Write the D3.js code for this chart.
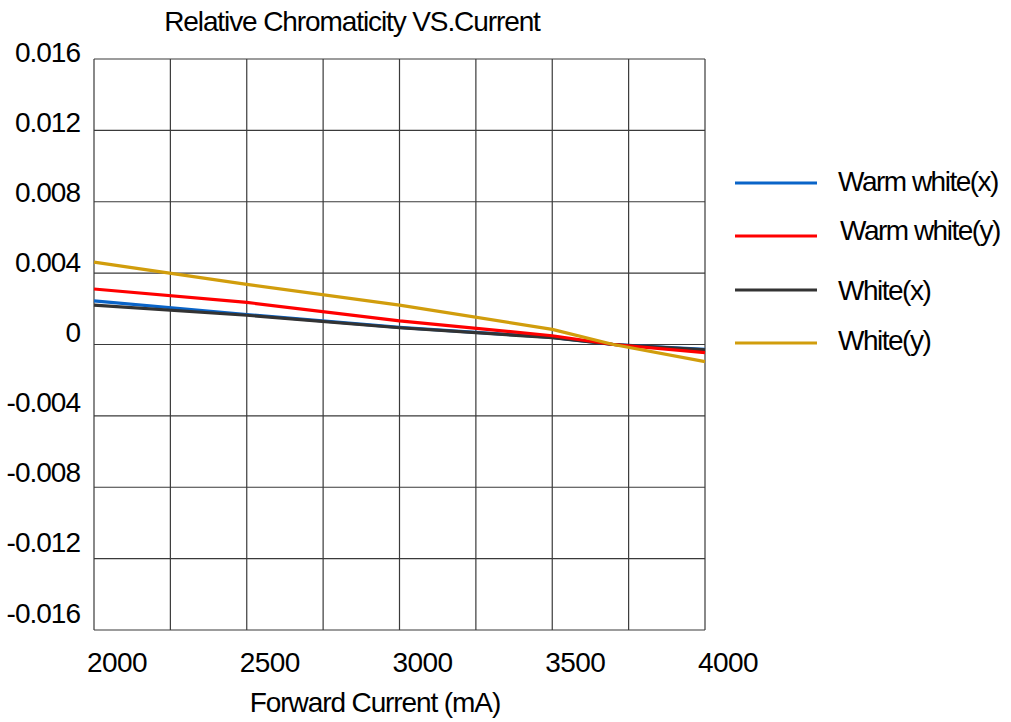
<!DOCTYPE html>
<html>
<head>
<meta charset="utf-8">
<script src="https://cdn.jsdelivr.net/npm/d3@7/dist/d3.min.js"></script>
<style>
  html, body { margin: 0; padding: 0; background: #fff; }
  svg { display: block; }
  text { font-family: "Liberation Sans", Arial, sans-serif; fill: #000; }
</style>
</head>
<body>
<svg id="chart" width="1011" height="722"></svg>
<script>
// ---- data ----
const title = "Relative Chromaticity VS.Current";
const xTitle = "Forward Current (mA)";
const currents = [2000, 2500, 3000, 3500, 3700, 4000];
const warmWhiteX = [0.00244, 0.00168, 0.00096, 0.00040, 0, -0.00027];
const warmWhiteY = [0.00311, 0.00236, 0.00132, 0.00049, 0, -0.00046];
const whiteX     = [0.00221, 0.00164, 0.00094, 0.00038, 0, -0.00030];
const whiteY     = [0.00462, 0.00337, 0.00221, 0.00085, 0, -0.00096];
const seriesNames = ["Warm white(x)", "Warm white(y)", "White(x)", "White(y)"];
const seriesColors = ["#0a64c8", "#ff0000", "#333333", "#d19d0c"];
const xTickLabels = [2000, 2500, 3000, 3500, 4000];
const xGrid = [2000, 2250, 2500, 2750, 3000, 3250, 3500, 3750, 4000];
const yTicks = [0.016, 0.012, 0.008, 0.004, 0, -0.004, -0.008, -0.012, -0.016];
const yTickLabels = ["0.016", "0.012", "0.008", "0.004", "0", "-0.004", "-0.008", "-0.012", "-0.016"];

const seriesValues = [warmWhiteX, warmWhiteY, whiteX, whiteY];

// ---- layout ----
const svg = d3.select("#chart");
const L = 94, R = 705, T = 59, B = 630;
const x = d3.scaleLinear().domain([2000, 4000]).range([L, R]);
const y = d3.scaleLinear().domain([-0.016, 0.016]).range([B, T]);
const yLab = d3.scaleLinear().domain([-0.016, 0.016]).range([613, 52]);

// grid
const g = svg.append("g");
g.selectAll("line.v").data(xGrid).join("line")
  .attr("x1", d => x(d)).attr("x2", d => x(d))
  .attr("y1", T).attr("y2", B)
  .attr("stroke", "#3a3a3a").attr("stroke-width", 1.2);
g.selectAll("line.h").data(yTicks).join("line")
  .attr("x1", L).attr("x2", R)
  .attr("y1", d => y(d)).attr("y2", d => y(d))
  .attr("stroke", "#3a3a3a").attr("stroke-width", 1.2);

// series lines
const line = d3.line().x((d, i) => x(currents[i])).y(d => y(d));
const order = [0, 2, 1, 3];
order.forEach(k => {
  svg.append("path").datum(seriesValues[k])
    .attr("d", line)
    .attr("fill", "none")
    .attr("stroke", seriesColors[k])
    .attr("stroke-width", 3.2)
    .attr("stroke-linejoin", "round");
});

// y labels
svg.selectAll("text.yl").data(yTicks).join("text")
  .attr("x", 80).attr("y", d => yLab(d))
  .attr("text-anchor", "end").attr("dominant-baseline", "central")
  .attr("font-size", 28).attr("letter-spacing", -1)
  .text((d, i) => yTickLabels[i]);

// x labels
svg.selectAll("text.xl").data(xTickLabels).join("text")
  .attr("x", d => x(d) + 23).attr("y", 672)
  .attr("text-anchor", "middle")
  .attr("font-size", 28).attr("letter-spacing", -0.6)
  .text(d => d);

// titles
svg.append("text").attr("x", 352).attr("y", 31)
  .attr("text-anchor", "middle").attr("font-size", 28).attr("letter-spacing", -1.1)
  .text(title);
svg.append("text").attr("x", 375).attr("y", 712)
  .attr("text-anchor", "middle").attr("font-size", 28).attr("letter-spacing", -1.1)
  .text(xTitle);

// legend
const legY = [183, 236, 290, 343];
const legTextY = [181, 230, 290, 340];
const legTextX = [838, 840, 838, 838];
seriesNames.forEach((name, k) => {
  svg.append("line")
    .attr("x1", 735).attr("x2", 817)
    .attr("y1", legY[k]).attr("y2", legY[k])
    .attr("stroke", seriesColors[k]).attr("stroke-width", 3);
  svg.append("text")
    .attr("x", legTextX[k]).attr("y", legTextY[k])
    .attr("dominant-baseline", "central")
    .attr("font-size", 28).attr("letter-spacing", -1.5)
    .text(name);
});
</script>
</body>
</html>
